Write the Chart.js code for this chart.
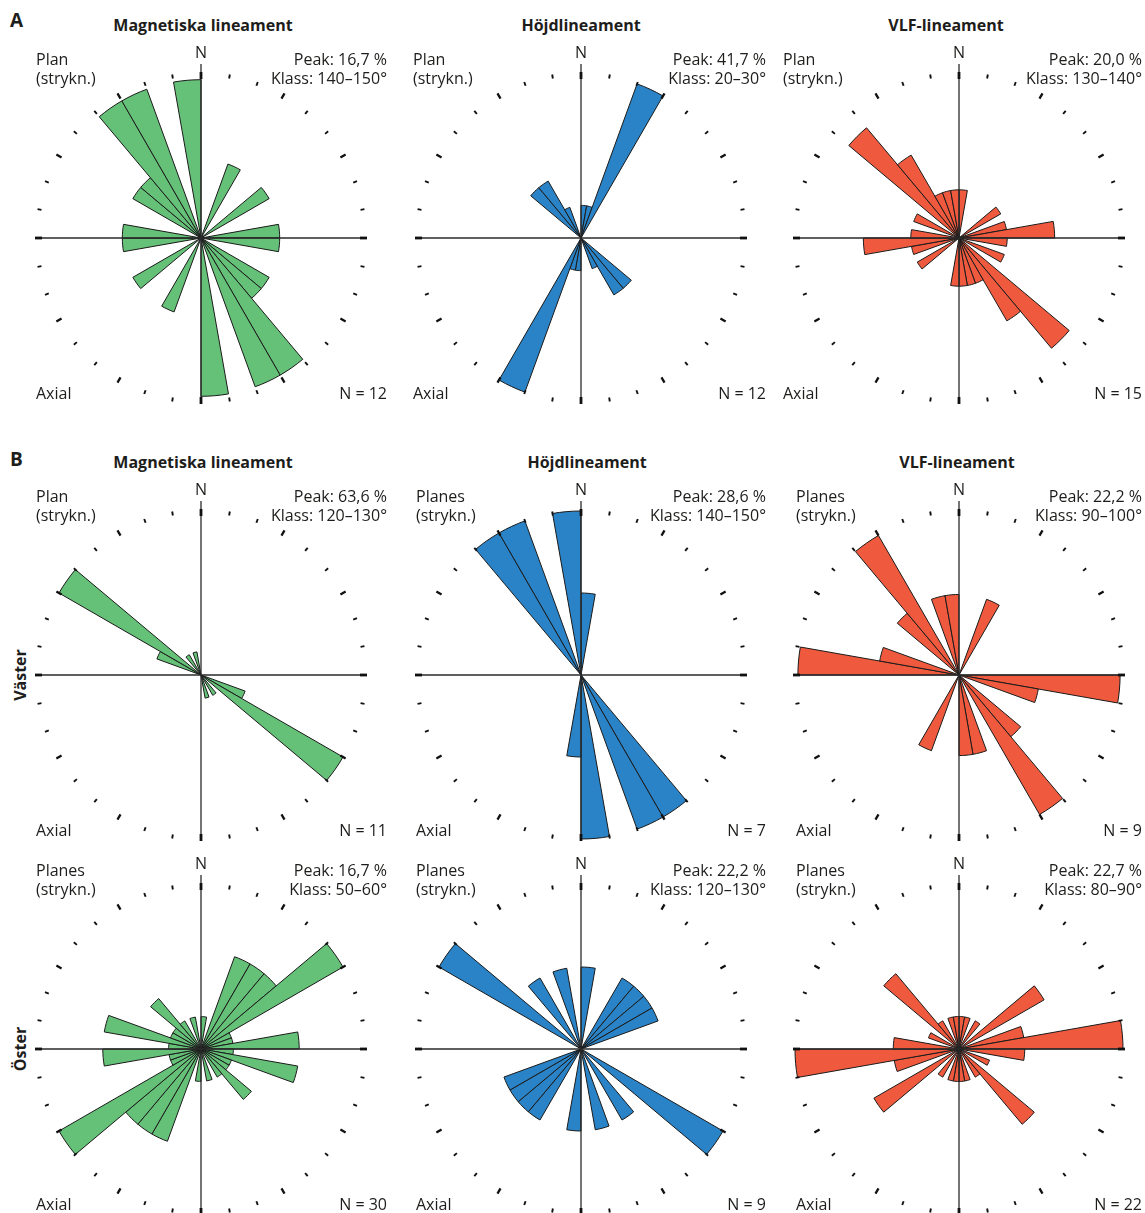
<!DOCTYPE html>
<html>
<head>
<meta charset="utf-8">
<script src="https://cdn.jsdelivr.net/npm/chart.js@4.4.1/dist/chart.umd.min.js"></script>
<style>
  body { margin: 0; background: #fff; }
  #fig { position: relative; width: 1145px; height: 1213px; overflow: hidden;
         font-family: "Open Sans", "Noto Sans", sans-serif; color: #1d1d1b; }
  #fig canvas { position: absolute; }
  .lbl { position: absolute; font-size: 16px; line-height: 20px; white-space: nowrap; }
  .b { font-weight: 700; }
</style>
</head>
<body>
<div id="fig"></div>
<script>
// 10-degree strike classes, 0-180 (axial data, mirrored for 180-360)
const classes = ['0–10','10–20','20–30','30–40','40–50','50–60','60–70','70–80','80–90',
  '90–100','100–110','110–120','120–130','130–140','140–150','150–160','160–170','170–180'];

// percent of lineaments per class
const magA  = [0, 0, 8.3, 0, 0, 8.3, 0, 0, 8.3, 8.3, 0, 0, 8.3, 8.3, 16.7, 16.7, 0, 16.7];
const hojdA = [8.3, 8.3, 41.7, 0, 0, 0, 0, 0, 0, 0, 0, 0, 0, 16.7, 16.7, 8.3, 0, 0];
const vlfA  = [6.7, 0, 0, 0, 0, 6.7, 0, 6.7, 13.3, 6.7, 0, 6.7, 0, 20.0, 13.3, 6.7, 6.7, 6.7];
const magV  = [0, 0, 0, 0, 0, 0, 0, 0, 0, 0, 0, 18.2, 63.6, 0, 9.1, 0, 9.1, 0];
const hojdV = [14.3, 0, 0, 0, 0, 0, 0, 0, 0, 0, 0, 0, 0, 0, 28.6, 28.6, 0, 28.6];
const vlfV  = [0, 0, 11.1, 0, 0, 0, 0, 0, 0, 22.2, 11.1, 0, 0, 11.1, 22.2, 0, 11.1, 11.1];
const magO  = [3.3, 0, 10.0, 10.0, 10.0, 16.7, 3.3, 3.3, 10.0, 3.3, 10.0, 3.3, 3.3, 6.7, 3.3, 0, 3.3, 0];
const hojdO = [11.1, 0, 0, 11.1, 11.1, 11.1, 11.1, 0, 0, 0, 0, 0, 22.2, 0, 11.1, 0, 11.1, 0];
const vlfO  = [4.5, 4.5, 0, 4.5, 0, 13.6, 0, 9.1, 22.7, 9.1, 0, 4.5, 0, 13.6, 4.5, 0, 4.5, 4.5];

const series   = [magA, hojdA, vlfA, magV, hojdV, vlfV, magO, hojdO, vlfO];
const peaks    = ['16,7', '41,7', '20,0', '63,6', '28,6', '22,2', '16,7', '22,2', '22,7'];
const peakCls  = ['140–150', '20–30', '130–140', '120–130', '140–150', '90–100', '50–60', '120–130', '80–90'];
const counts   = [12, 12, 15, 11, 7, 9, 30, 9, 22];
const planText = ['Plan', 'Plan', 'Plan', 'Plan', 'Planes', 'Planes', 'Planes', 'Planes', 'Planes'];
const titles   = ['Magnetiska lineament', 'Höjdlineament', 'VLF-lineament'];
// percent value at the outer tick ring of each rose
const scaleMax = [17.3, 41.7, 22.8, 63.6, 28.6, 22.6, 16.7, 22.2, 22.7];

const colors = ['#66c178', '#2a83c6', '#ef5a3e'];
const colX = [201, 581, 959];
const rowY = [238, 675, 1049];
const leftX = [[36, 413, 783], [36, 416, 796], [36, 416, 796]];
const rightX = [387, 766, 1142];
const titleX = [[203, 581, 946], [203, 587, 957]];
const titleY = [25, 462];

const fig = document.getElementById('fig');

function label(text, x, y, align, bold) {
  const d = document.createElement('div');
  d.className = 'lbl' + (bold ? ' b' : '');
  d.textContent = text;
  d.style.top = (y - 10) + 'px';
  if (align === 'left') d.style.left = x + 'px';
  else if (align === 'right') d.style.right = (1145 - x) + 'px';
  else { d.style.left = x + 'px'; d.style.transform = 'translateX(-50%)'; }
  fig.appendChild(d);
  return d;
}

// crosshair and 10-degree tick ring drawn over the petals
const compass = {
  id: 'compass',
  afterDatasetsDraw(chart) {
    const s = chart.scales.r;
    const ctx = chart.ctx;
    const cx = s.xCenter, cy = s.yCenter, R = s.drawingArea;
    ctx.save();
    ctx.strokeStyle = '#2b2b2b';
    ctx.lineWidth = 1.3;
    ctx.beginPath();
    ctx.moveTo(cx - R - 2, cy); ctx.lineTo(cx + R + 2, cy);
    ctx.moveTo(cx, cy - R - 10); ctx.lineTo(cx, cy + R + 2);
    ctx.stroke();
    ctx.strokeStyle = '#111';
    for (let deg = 0; deg < 360; deg += 10) {
      const a = deg * Math.PI / 180;
      const dx = Math.sin(a), dy = -Math.cos(a);
      let r0 = R - 2, r1 = R + 2, w = 1.9;
      if (deg % 90 === 0) { r0 = R - 5; r1 = R + 2; w = 2.8; }
      else if (deg % 30 === 0) { r0 = R - 3; r1 = R + 3; w = 2.3; }
      ctx.lineWidth = w;
      ctx.beginPath();
      ctx.moveTo(cx + dx * r0, cy + dy * r0);
      ctx.lineTo(cx + dx * r1, cy + dy * r1);
      ctx.stroke();
    }
    ctx.restore();
  }
};

label('A', 10, 20, 'left', true).style.fontSize = '19px';
label('B', 10, 459, 'left', true).style.fontSize = '19px';
for (let r = 0; r < 2; r++) {
  for (let c = 0; c < 3; c++) label(titles[c], titleX[r][c], titleY[r], 'center', true);
}
const side = [['Väster', 675], ['Öster', 1049]];
side.forEach(([t, y]) => {
  const d = label(t, 20, y, 'center', true);
  d.style.transform = 'translateX(-50%) rotate(-90deg)';
});

series.forEach((half, i) => {
  const row = Math.floor(i / 3), col = i % 3;
  const cx = colX[col], cy = rowY[row];

  const cv = document.createElement('canvas');
  cv.width = 380; cv.height = 380;
  cv.style.left = (cx - 190) + 'px';
  cv.style.top = (cy - 190) + 'px';
  cv.style.width = '380px'; cv.style.height = '380px';
  fig.appendChild(cv);

  new Chart(cv.getContext('2d'), {
    type: 'polarArea',
    data: {
      labels: classes.concat(classes),
      datasets: [{
        data: half.concat(half),
        backgroundColor: colors[col],
        borderColor: '#1a1a1a',
        borderWidth: 1
      }]
    },
    options: {
      responsive: false,
      animation: false,
      layout: { padding: 26 },
      plugins: { legend: { display: false }, tooltip: { enabled: false } },
      scales: {
        r: {
          min: 0,
          max: scaleMax[i],
          startAngle: 0,
          ticks: { display: false },
          grid: { display: false },
          angleLines: { display: false },
          pointLabels: { display: false }
        }
      }
    },
    plugins: [compass]
  });

  const lx = leftX[row][col], rx = rightX[col];
  label('N', cx, cy - 186, 'center');
  label(planText[i], lx, cy - 179, 'left');
  label('(strykn.)', lx, cy - 160, 'left');
  label('Peak: ' + peaks[i] + ' %', rx, cy - 179, 'right');
  label('Klass: ' + peakCls[i] + '°', rx, cy - 160, 'right');
  label('Axial', lx, cy + 155, 'left');
  label('N = ' + counts[i], rx, cy + 155, 'right');
});
</script>
</body>
</html>
